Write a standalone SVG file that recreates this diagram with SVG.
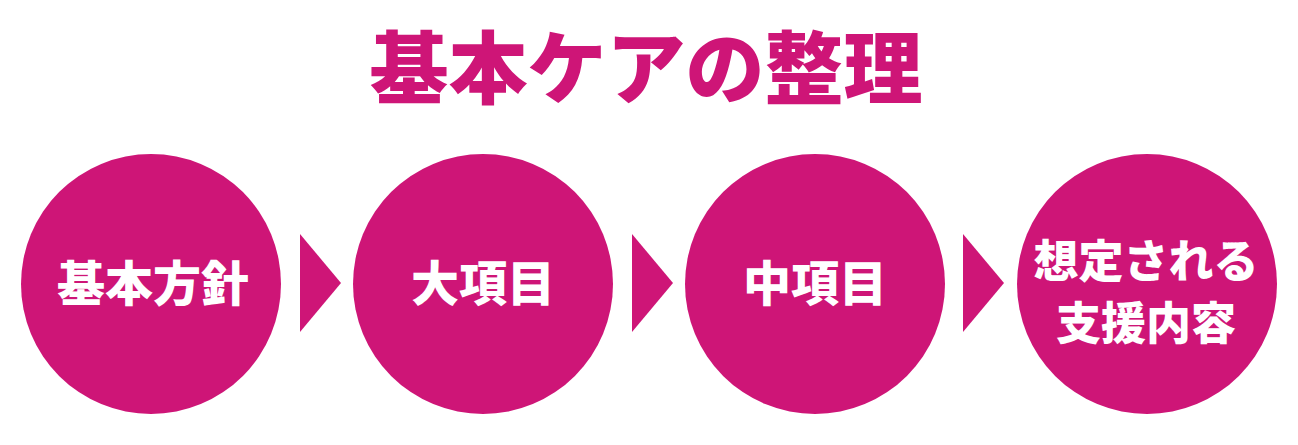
<svg xmlns="http://www.w3.org/2000/svg" width="1298" height="445" viewBox="0 0 1298 445">
<style>
.c{fill:#CE1577}
.a{fill:#CE1577}
.t{font-family:"Noto Sans CJK JP","Noto Sans CJK SC",sans-serif;font-weight:900;text-anchor:middle}
.title{fill:#CE1577;font-size:79px}
.n{fill:#fff;font-size:48px}
.n2{fill:#fff;font-size:45px}
</style>
<rect width="1298" height="445" fill="#fff"/>
<text class="t title" x="646" y="98">基本ケアの整理</text>
<g id="connectors">
<polygon class="a" points="300,234 341,283 300,332"/>
<polygon class="a" points="632,234 673,283 632,332"/>
<polygon class="a" points="963,234 1004,283 963,332"/>
</g>
<g id="node1">
<circle class="c" cx="151" cy="284" r="130"/>
<text class="t n" x="153" y="301">基本方針</text>
</g>
<g id="node2">
<circle class="c" cx="483" cy="284" r="130"/>
<text class="t n" x="483" y="301">大項目</text>
</g>
<g id="node3">
<circle class="c" cx="815" cy="284" r="130"/>
<text class="t n" x="815" y="301">中項目</text>
</g>
<g id="node4">
<circle class="c" cx="1147" cy="284" r="130"/>
<text class="t n2" x="1146" y="278">想定される</text>
<text class="t n2" x="1146" y="340">支援内容</text>
</g>
</svg>
